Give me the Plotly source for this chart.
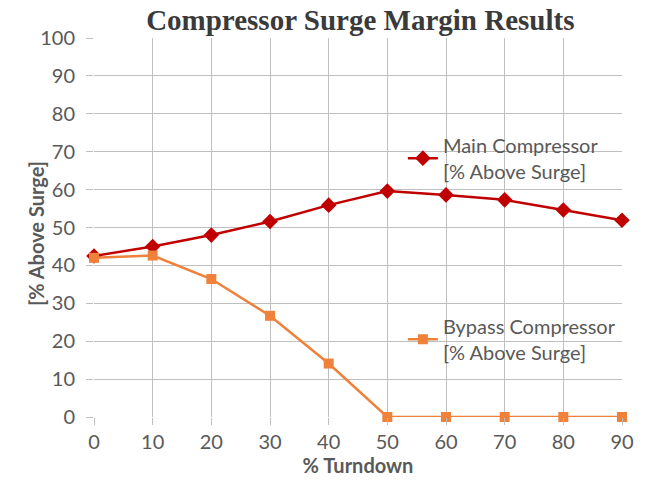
import plotly.graph_objects as go

turndown = [0, 10, 20, 30, 40, 50, 60, 70, 80, 90]
main_surge = [42.5, 45.0, 48.0, 51.6, 55.9, 59.6, 58.6, 57.3, 54.6, 51.9]
bypass_surge = [42.0, 42.6, 36.4, 26.7, 14.1, 0, 0, 0, 0, 0]
y_ticks = list(range(0, 101, 10))

text_color = "#595959"
grid_color = "#BFBFBF"
sans = "Lato, Open Sans, sans-serif"

fig = go.Figure()
fig.add_trace(go.Scatter(
    x=turndown, y=main_surge, mode="lines+markers",
    name="Main Compressor<br>[% Above Surge]",
    line=dict(color="#C00000", width=2.5),
    marker=dict(symbol="diamond", size=12, color="#C00000"),
    cliponaxis=False, legend="legend",
))
fig.add_trace(go.Scatter(
    x=turndown, y=bypass_surge, mode="lines+markers",
    name="Bypass Compressor<br>[% Above Surge]",
    line=dict(color="#F0813A", width=2.5),
    marker=dict(symbol="square", size=10, color="#F0813A"),
    cliponaxis=False, legend="legend2",
))

legend_font = dict(family=sans, size=20, color=text_color)

fig.update_layout(
    width=648, height=482,
    margin=dict(l=94, r=26, t=38, b=65),
    paper_bgcolor="white", plot_bgcolor="white",
    showlegend=True,
    title=dict(
        text="<b>Compressor Surge Margin Results</b>",
        font=dict(family="Liberation Serif, serif", size=29, color="#3A3A3A"),
        x=0.556, xanchor="center", y=0.958, yanchor="middle",
    ),
    xaxis=dict(
        range=[0, 90], tickvals=turndown, showgrid=True, gridcolor=grid_color,
        gridwidth=1, zeroline=False, showline=False, automargin=False,
        ticks="outside", ticklen=7, tickcolor=grid_color,
        tickfont=dict(family=sans, size=20, color=text_color),
        title=dict(text="<b>% Turndown</b>", standoff=4,
                   font=dict(family=sans, size=20, color=text_color)),
    ),
    yaxis=dict(
        range=[0, 100], tickvals=y_ticks, showgrid=True, gridcolor=grid_color,
        gridwidth=1, zeroline=False, showline=False, automargin=False,
        ticks="outside", ticklen=7, tickcolor=grid_color,
        ticklabelstandoff=7,
        tickfont=dict(family=sans, size=20, color=text_color),
    ),
    annotations=[dict(
        text="<b>[% Above Surge]</b>", textangle=-90, showarrow=False,
        xref="paper", yref="paper", x=-0.11, y=0.485,
        xanchor="center", yanchor="middle",
        font=dict(family=sans, size=20, color=text_color),
    )],
    legend=dict(
        x=0.585, y=0.683, xanchor="left", yanchor="middle",
        bgcolor="rgba(0,0,0,0)", font=legend_font, itemwidth=30,
    ),
    legend2=dict(
        x=0.585, y=0.205, xanchor="left", yanchor="middle",
        bgcolor="rgba(0,0,0,0)", font=legend_font, itemwidth=30,
    ),
)

fig.write_html("out.html")
